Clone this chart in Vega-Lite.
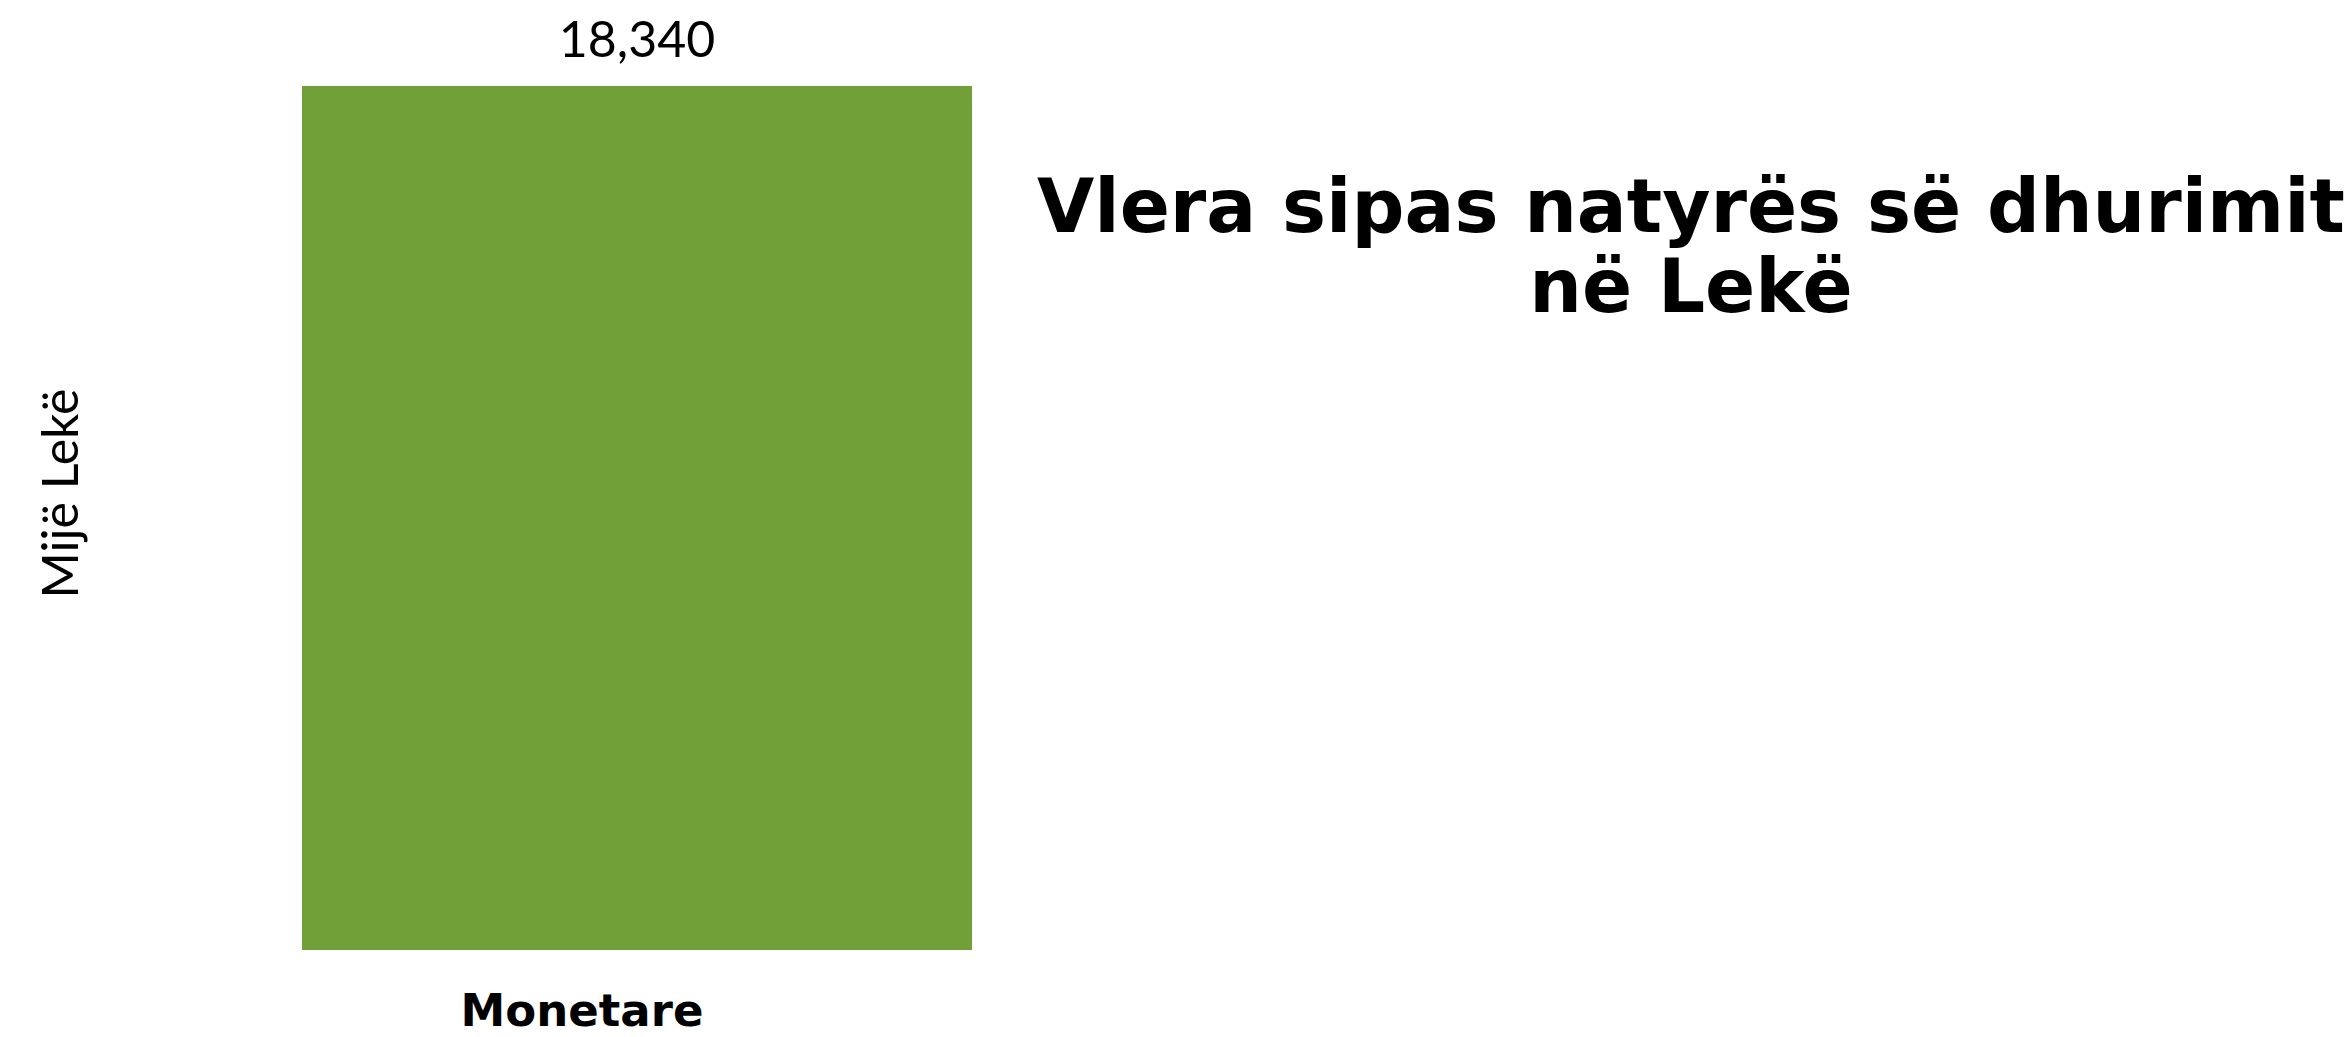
{
  "$schema": "https://vega.github.io/schema/vega-lite/v6.json",
  "width": 670,
  "height": 864,
  "autosize": {"type": "none"},
  "padding": {"left": 302, "top": 86, "right": 1380, "bottom": 87},
  "background": "white",
  "title": {
    "text": ["Vlera sipas natyrës së dhurimit", "në Lekë"],
    "orient": "top",
    "anchor": "middle",
    "frame": "group",
    "font": "DejaVu Sans",
    "fontWeight": "bold",
    "fontSize": 74,
    "lineHeight": 80,
    "color": "black",
    "baseline": "alphabetic",
    "offset": 0,
    "dx": 1054,
    "dy": 369
  },
  "data": {"values": [{"natyra": "Monetare", "vlera": 18340}]},
  "config": {"view": {"stroke": null}},
  "layer": [
    {
      "mark": {"type": "bar", "color": "#70a037"},
      "encoding": {
        "x": {
          "field": "natyra", "type": "nominal",
          "scale": {"paddingInner": 0, "paddingOuter": 0},
          "axis": {
            "title": null, "ticks": false, "domain": false, "labelAngle": 0,
            "labelFont": "DejaVu Sans", "labelFontWeight": "bold", "labelFontSize": 45,
            "labelColor": "black", "labelBaseline": "alphabetic", "labelPadding": 75,
            "labelOffset": -55, "labelLimit": 0
          }
        },
        "y": {
          "field": "vlera", "type": "quantitative",
          "scale": {"domain": [0, 18340], "nice": false},
          "axis": {
            "title": "Mijë Lekë", "labels": false, "ticks": false, "domain": false, "grid": false,
            "titleFont": "Lato", "titleFontWeight": "normal", "titleFontSize": 50, "titleColor": "black",
            "titleX": -240, "titleY": 407, "titleAngle": -90, "titleAlign": "center", "titleBaseline": "middle"
          }
        }
      }
    },
    {
      "mark": {"type": "text", "font": "Lato", "fontSize": 50, "color": "black", "baseline": "alphabetic", "dy": -29},
      "encoding": {
        "x": {"field": "natyra", "type": "nominal"},
        "y": {"field": "vlera", "type": "quantitative"},
        "text": {"field": "vlera", "type": "quantitative", "format": ","}
      }
    }
  ]
}
